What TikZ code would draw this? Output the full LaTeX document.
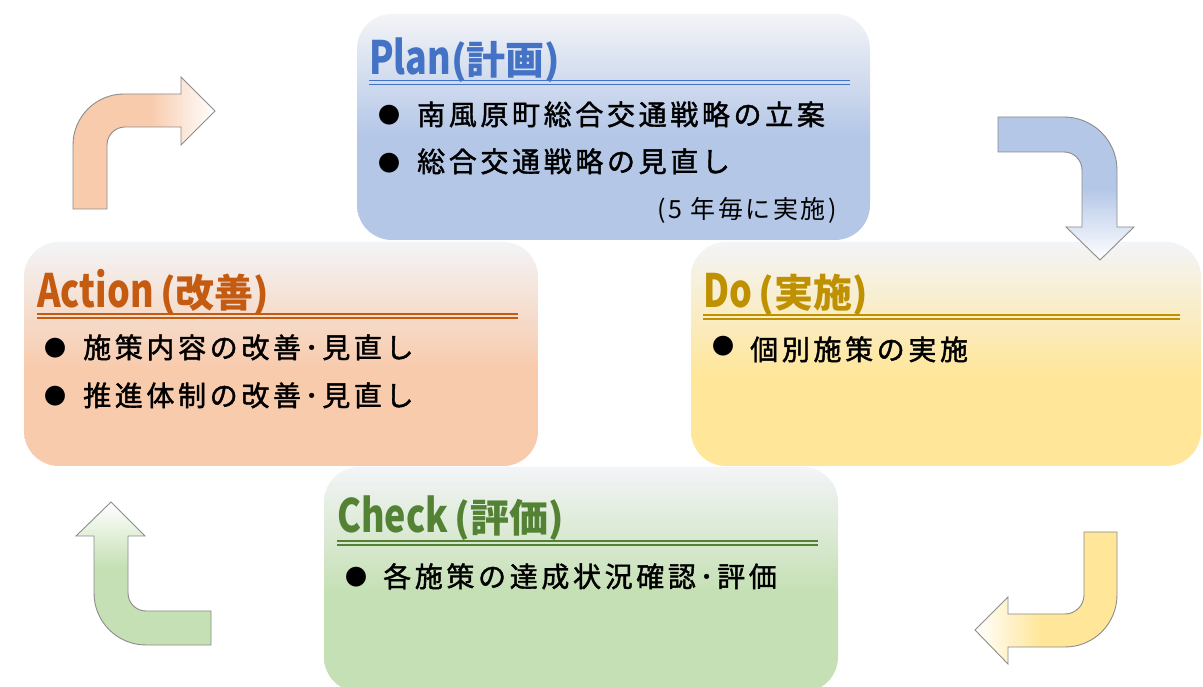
\documentclass[tikz,border=0pt]{standalone}
\usepackage{fontspec}
\newfontfamily\jp{Noto Sans CJK JP}[LetterSpace=13,FakeBold=1.5]
\newfontfamily\jpn{Noto Sans CJK JP}
\newfontfamily\jpnote{Noto Sans CJK JP}[LetterSpace=10]
\definecolor{planc}{HTML}{B4C7E7}
\definecolor{actc}{HTML}{F8CBAD}
\definecolor{doc}{HTML}{FFE699}
\definecolor{chkc}{HTML}{C5E0B4}
\definecolor{topc}{HTML}{F3F4F7}
\definecolor{plant}{HTML}{4472C4}
\definecolor{actt}{HTML}{C55A11}
\definecolor{dot}{HTML}{BF9000}
\definecolor{chkt}{HTML}{548235}
\definecolor{arrgray}{HTML}{8C8C8C}
\pgfdeclareverticalshading{planshade}{100bp}{color(0bp)=(planc); color(25bp)=(planc); color(48bp)=(planc); color(75bp)=(topc); color(100bp)=(topc)}
\pgfdeclareverticalshading{actshade}{100bp}{color(0bp)=(actc); color(25bp)=(actc); color(47bp)=(actc); color(75bp)=(topc); color(100bp)=(topc)}
\pgfdeclareverticalshading{doshade}{100bp}{color(0bp)=(doc); color(25bp)=(doc); color(45bp)=(doc); color(75bp)=(topc); color(100bp)=(topc)}
\pgfdeclareverticalshading{chkshade}{100bp}{color(0bp)=(chkc); color(25bp)=(chkc); color(47bp)=(chkc); color(75bp)=(topc); color(100bp)=(topc)}
\pgfdeclarehorizontalshading{orangearr}{100bp}{color(0bp)=(actc); color(25bp)=(actc); color(52bp)=(actc); color(75bp)=(white); color(100bp)=(white)}
\pgfdeclareverticalshading{bluearr}{100bp}{color(0bp)=(white); color(25bp)=(white); color(50bp)=(planc); color(75bp)=(planc); color(100bp)=(planc)}
\pgfdeclarehorizontalshading{yellowarr}{100bp}{color(0bp)=(white); color(25bp)=(white); color(48bp)=(doc); color(75bp)=(doc); color(100bp)=(doc)}
\pgfdeclareverticalshading{greenarr}{100bp}{color(0bp)=(chkc); color(25bp)=(chkc); color(52bp)=(chkc); color(75bp)=(white); color(100bp)=(white)}
\newcommand{\ttlfont}{\jpn\bfseries\fontsize{39}{39}\selectfont}
\newcommand{\latbig}[1]{{\fontsize{46}{46}\selectfont\scalebox{0.78}[1]{#1}}}
\begin{document}
\begin{tikzpicture}[x=1pt,y=1pt,
  box/.style={rounded corners=35pt},
  arr/.style={draw=arrgray, line width=0.9pt, line join=miter},
  ttl/.style={anchor=base west, inner sep=0pt, font=\ttlfont},
  itm/.style={anchor=base west, inner sep=0pt, font=\jp\fontsize{28}{28}\selectfont},
  bul/.style={inner sep=0pt, font=\jpn\fontsize{22}{22}\selectfont},
  dline/.style={line width=1.8pt}]
\useasboundingbox (0,0) rectangle (1203,686);
\clip (0,0) rectangle (1203,686);
\fill[white] (0,0) rectangle (1203,686);
% boxes
\path[box, shading=planshade] (357,446) rectangle (870,672);
\path[box, shading=actshade] (24,220) rectangle (538,444);
\path[box, shading=doshade] (691,220) rectangle (1201,444);
\path[box, shading=chkshade] (324,-6) rectangle (838,219);
% arrows
\path[arr, shading=orangearr] (73,477) -- (73,541) arc[start angle=180, end angle=90, radius=51] -- (181,592) -- (181,609) -- (215,575) -- (181,541) -- (181,559) -- (125,559) arc[start angle=90, end angle=180, radius=18] -- (107,477) -- cycle;
\path[arr, shading=bluearr] (998,569) -- (1064,569) arc[start angle=90, end angle=0, radius=53] -- (1117,459) -- (1134,459) -- (1100,426) -- (1066,459) -- (1082,459) -- (1082,516) arc[start angle=0, end angle=90, radius=18] -- (998,534) -- cycle;
\path[arr, shading=yellowarr] (1117,154) -- (1117,91) arc[start angle=0, end angle=-90, radius=52] -- (1008,39) -- (1008,22) -- (975,56) -- (1008,89) -- (1008,72) -- (1065,72) arc[start angle=-90, end angle=0, radius=19] -- (1084,154) -- cycle;
\path[arr, shading=greenarr] (211,41) -- (146,41) arc[start angle=-90, end angle=-180, radius=52] -- (94,150) -- (76,150) -- (111,184) -- (145,150) -- (128,150) -- (128,93) arc[start angle=180, end angle=270, radius=18] -- (211,75) -- cycle;
% Plan
\node[ttl, text=plant] (plantitle) at (369,611) {\latbig{Plan}(計画)};
\draw[dline, plant] (369,605.5) -- (850,605.5) (369,601.5) -- (850,601.5);
\node[bul] (pb1) at (389,571) {●};
\node[itm] (pt1) at (417,561) {南風原町総合交通戦略の立案};
\node[bul] (pb2) at (389,523) {●};
\node[itm] (pt2) at (417,514) {総合交通戦略の見直し};
\node[anchor=base east, inner sep=0pt, font=\jpnote\fontsize{25}{25}\selectfont] (pnote) at (837,467) {(5 年毎に実施)};
% Action
\node[ttl, text=actt] (acttitle) at (37,378) {\latbig{Action}\,(改善)};
\draw[dline, actt] (37,372) -- (518,372) (37,368) -- (518,368);
\node[bul] (ab1) at (56,338) {●};
\node[itm] (at1) at (83,328) {施策内容の改善･見直し};
\node[bul] (ab2) at (56,290) {●};
\node[itm] (at2) at (83,280) {推進体制の改善･見直し};
% Do
\node[ttl, text=dot] (dotitle) at (703,378) {\latbig{Do}\,(実施)};
\draw[dline, dot] (703,371.3) -- (1180,371.3) (703,367.3) -- (1180,367.3);
\node[bul] (db1) at (723,340) {●};
\node[itm] (dt1) at (750,326) {個別施策の実施};
% Check
\node[ttl, text=chkt] (chktitle) at (337,153) {\latbig{Check}\,(評価)};
\draw[dline, chkt] (337,145) -- (818,145) (337,141) -- (818,141);
\node[bul] (cb1) at (356,109) {●};
\node[itm] (ct1) at (383,99) {各施策の達成状況確認･評価};
\end{tikzpicture}
\end{document}
